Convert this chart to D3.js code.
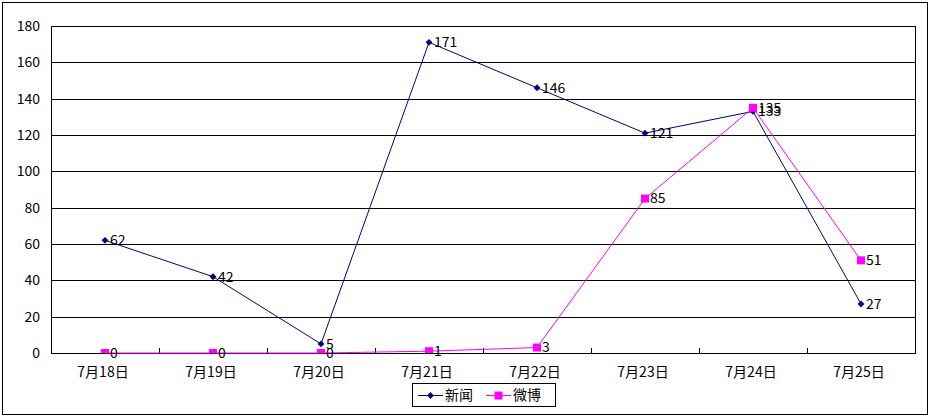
<!DOCTYPE html>
<html><head><meta charset="utf-8">
<script src="https://cdn.jsdelivr.net/npm/d3@7"></script>
<style>
body{margin:0;background:#fff;}
text{font-family:"Noto Sans CJK SC","DejaVu Sans",sans-serif;font-size:14px;fill:#000;}
</style></head><body>
<svg id="c" width="932" height="416"></svg>
<script>
const categories = ["7月18日","7月19日","7月20日","7月21日","7月22日","7月23日","7月24日","7月25日"];
const newsValues = [62,42,5,171,146,121,133,27];
const weiboValues = [0,0,0,1,3,85,135,51];
const yTicks = [0,20,40,60,80,100,120,140,160,180];
const seriesNames = ["新闻","微博"];

const svg = d3.select("#c");
const m = {left:51, top:26, right:915, bottom:353};
svg.append("rect").attr("x",2.5).attr("y",2.5).attr("width",925).attr("height",412)
  .attr("fill","#fff").attr("stroke","#000").attr("stroke-width",1);

const x = d3.scaleBand().domain(categories).range([m.left,m.right]);
const y = d3.scaleLinear().domain([0,180]).range([m.bottom,m.top]);

// gridlines
svg.append("g").selectAll("line").data(yTicks.filter(d=>d>0)).join("line")
  .attr("x1",m.left).attr("x2",m.right)
  .attr("y1",d=>Math.round(y(d))+0.5).attr("y2",d=>Math.round(y(d))+0.5)
  .attr("stroke","#000").attr("stroke-width",1);
// plot border
svg.append("rect").attr("x",m.left+0.5).attr("y",m.top+0.5)
  .attr("width",m.right-m.left).attr("height",m.bottom-m.top)
  .attr("fill","none").attr("stroke","#000");

// y labels
svg.append("g").selectAll("text").data(yTicks).join("text")
  .attr("x",40).attr("y",d=>y(d)).attr("dy","0.35em").attr("text-anchor","end").text(d=>d);

// x ticks (between categories, inward)
const bounds = categories.slice(1).map(c=>x(c));
svg.append("g").selectAll("line").data(bounds).join("line")
  .attr("x1",d=>Math.round(d)+0.5).attr("x2",d=>Math.round(d)+0.5)
  .attr("y1",m.bottom).attr("y2",m.bottom-5).attr("stroke","#000");
svg.append("g").selectAll("text").data(categories).join("text")
  .attr("x",d=>x(d)+x.bandwidth()/2-2).attr("y",372).attr("dy","0.35em")
  .attr("text-anchor","middle").text(d=>d);

svg.append("defs").append("clipPath").attr("id","pc").append("rect")
  .attr("x",m.left).attr("y",m.top).attr("width",m.right-m.left).attr("height",m.bottom-m.top);

const cx = c=>x(c)+x.bandwidth()/2;
const line = d3.line().x(d=>cx(d[0])).y(d=>y(d[1]));

function series(vals,color,shape){
  const data = categories.map((c,i)=>[c,vals[i]]);
  svg.append("path").datum(data).attr("d",line).attr("fill","none")
    .attr("stroke",color).attr("stroke-width",1);
  const g = svg.append("g").attr("clip-path","url(#pc)");
  if(shape==="diamond"){
    g.selectAll("path").data(data).join("path")
      .attr("d",d3.symbol(d3.symbolDiamond2,30))
      .attr("transform",d=>`translate(${cx(d[0])},${y(d[1])})`).attr("fill",color);
  } else {
    g.selectAll("rect").data(data).join("rect")
      .attr("x",d=>cx(d[0])-4).attr("y",d=>y(d[1])-4).attr("width",8).attr("height",8)
      .attr("fill",color);
  }
  svg.append("g").selectAll("text").data(data).join("text")
    .attr("x",d=>cx(d[0])+5).attr("y",d=>y(d[1])).attr("dy","0.35em").text(d=>d[1]);
}
series(newsValues,"#000080","diamond");
series(weiboValues,"#FF00FF","square");

// legend
const lg = svg.append("g");
lg.append("rect").attr("x",412.5).attr("y",383.5).attr("width",143).attr("height",23)
  .attr("fill","#fff").attr("stroke","#000");
lg.append("line").attr("x1",418).attr("x2",443).attr("y1",395.5).attr("y2",395.5).attr("stroke","#000080");
lg.append("path").attr("d",d3.symbol(d3.symbolDiamond2,30)).attr("transform","translate(430.5,395.5)").attr("fill","#000080");
lg.append("text").attr("x",445).attr("y",395).attr("dy","0.35em").text(seriesNames[0]);
lg.append("line").attr("x1",486).attr("x2",511).attr("y1",395.5).attr("y2",395.5).attr("stroke","#FF00FF");
lg.append("rect").attr("x",494.5).attr("y",391.5).attr("width",8).attr("height",8).attr("fill","#FF00FF");
lg.append("text").attr("x",513).attr("y",395).attr("dy","0.35em").text(seriesNames[1]);
</script></body></html>
